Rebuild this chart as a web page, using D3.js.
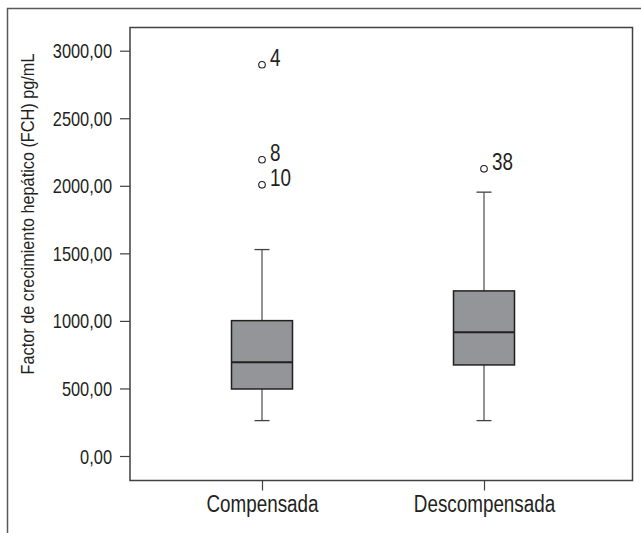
<!DOCTYPE html>
<html><head><meta charset="utf-8">
<script src="https://cdn.jsdelivr.net/npm/d3@7"></script>
<style>body{margin:0;background:#fff}svg{display:block}</style>
</head><body>
<svg id="c" width="641" height="533"></svg>
<script>
const categories = ["Compensada", "Descompensada"];
const whiskerLow = [262, 262];
const q1 = [496, 674];
const median = [694, 916];
const q3 = [1002, 1222];
const whiskerHigh = [1528, 1953];
const outlierGroup = [0, 0, 0, 1];
const outlierValue = [2896, 2193, 2007, 2126];
const outlierLabel = ["4", "8", "10", "38"];
const yTicks = [0, 500, 1000, 1500, 2000, 2500, 3000];
const yTitle = "Factor de crecimiento hepático (FCH) pg/mL";

const FONT = "'Liberation Sans Narrow','Arial Narrow','Liberation Sans',Arial,sans-serif";
const SX = 0.82; // horizontal condensing to mimic a narrow typeface
const svg = d3.select("#c");
const L = 130, R = 632.5, T = 27.5, B = 480.5;
const y = d3.scaleLinear().domain([0, 3000]).range([456, 50.7]);
const x = d3.scalePoint().domain(categories).range([262, 484]);
const fmt = v => d3.format(".2f")(v).replace(".", ",");

function narrow(sel, px, py, size, anchor, rot, sx) {
  sel.attr("x", 0).attr("y", 0).attr("dy", null)
    .attr("transform", `translate(${px},${py})${rot ? " rotate(" + rot + ")" : ""} scale(${sx || SX},1)`)
    .attr("text-anchor", anchor).attr("font-family", FONT).attr("font-size", size).attr("fill", "#231f20");
  return sel;
}

// outer frame
svg.append("path").attr("d", "M7.5,533V8.5H641").attr("fill", "none").attr("stroke", "#58595b").attr("stroke-width", 1.5);
// plot frame
svg.append("rect").attr("x", L).attr("y", T).attr("width", R - L).attr("height", B - T)
  .attr("fill", "none").attr("stroke", "#414042").attr("stroke-width", 1.5);

// y axis
const ya = svg.append("g").attr("transform", `translate(${L},0)`)
  .call(d3.axisLeft(y).tickValues(yTicks).tickFormat(fmt).tickSize(10));
ya.select(".domain").remove();
ya.selectAll("line").attr("stroke", "#414042").attr("stroke-width", 1.2);
ya.selectAll("text").each(function () { narrow(d3.select(this), -18, 7, 20, "end"); });

// x axis
const xa = svg.append("g").attr("transform", `translate(0,${B})`)
  .call(d3.axisBottom(x).tickSize(10));
xa.select(".domain").remove();
xa.selectAll("line").attr("stroke", "#414042").attr("stroke-width", 1.2);
xa.selectAll("text").each(function () { narrow(d3.select(this), 0, 31, 23, "middle"); });

// y title
narrow(svg.append("text").text(yTitle), 34, 214, 18.5, "middle", -90, 0.88);

const boxW = 61, capW = 15;
const g = svg.append("g");
categories.forEach((c, i) => {
  const cx = x(c);
  g.append("line").attr("x1", cx).attr("x2", cx).attr("y1", y(q3[i])).attr("y2", y(whiskerHigh[i])).attr("stroke", "#58595b").attr("stroke-width", 1.3);
  g.append("line").attr("x1", cx).attr("x2", cx).attr("y1", y(q1[i])).attr("y2", y(whiskerLow[i])).attr("stroke", "#58595b").attr("stroke-width", 1.3);
  g.append("line").attr("x1", cx - capW / 2).attr("x2", cx + capW / 2).attr("y1", y(whiskerHigh[i])).attr("y2", y(whiskerHigh[i])).attr("stroke", "#414042").attr("stroke-width", 1.3);
  g.append("line").attr("x1", cx - capW / 2).attr("x2", cx + capW / 2).attr("y1", y(whiskerLow[i])).attr("y2", y(whiskerLow[i])).attr("stroke", "#414042").attr("stroke-width", 1.3);
  g.append("rect").attr("x", cx - boxW / 2).attr("width", boxW).attr("y", y(q3[i])).attr("height", y(q1[i]) - y(q3[i]))
    .attr("fill", "#939598").attr("stroke", "#231f20").attr("stroke-width", 1.5);
  g.append("line").attr("x1", cx - boxW / 2).attr("x2", cx + boxW / 2).attr("y1", y(median[i])).attr("y2", y(median[i])).attr("stroke", "#231f20").attr("stroke-width", 1.8);
});

outlierValue.forEach((v, k) => {
  const cx = x(categories[outlierGroup[k]]);
  g.append("circle").attr("cx", cx).attr("cy", y(v)).attr("r", 3.3).attr("fill", "#fff").attr("stroke", "#231f20").attr("stroke-width", 1.1);
  narrow(g.append("text").text(outlierLabel[k]), cx + 8, y(v) + 1, 23, "start");
});
</script>
</body></html>
